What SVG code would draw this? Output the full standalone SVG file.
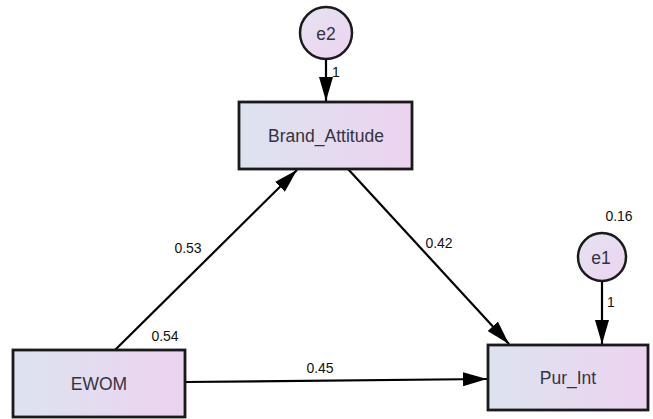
<svg xmlns="http://www.w3.org/2000/svg" width="653" height="419" viewBox="0 0 653 419">
<defs>
<linearGradient id="boxg" x1="0" y1="0" x2="1" y2="0">
<stop offset="0" stop-color="#dde3ef"/>
<stop offset="1" stop-color="#ecd3ef"/>
</linearGradient>
<linearGradient id="circg" x1="0" y1="0" x2="1" y2="1">
<stop offset="0" stop-color="#e6e3f3"/>
<stop offset="1" stop-color="#ecd3ef"/>
</linearGradient>
<marker id="arr" viewBox="0 0 24 14" refX="24" refY="7" markerWidth="24" markerHeight="14" markerUnits="userSpaceOnUse" orient="auto">
<path d="M0,0 L24,7 L0,14 Z" fill="#000"/>
</marker>
<style>
.box{fill:url(#boxg);stroke:#1a1a1a;stroke-width:2.8}
.circ{fill:url(#circg);stroke:#1a1a1a;stroke-width:2.5}
.nt{font-family:"Liberation Sans",Arial,sans-serif;font-size:17.5px;fill:#33333f;text-anchor:middle;dominant-baseline:central}
.lb{font-family:"Liberation Sans",Arial,sans-serif;font-size:14px;fill:#111;text-anchor:middle;dominant-baseline:central}
.ln{stroke:#000;stroke-width:2.2;fill:none;marker-end:url(#arr)}
</style>
</defs>
<g id="connectors">
<line class="ln" x1="326" y1="59" x2="326" y2="101"/>
<line class="ln" x1="602" y1="281" x2="602" y2="344"/>
<line class="ln" x1="115" y1="350" x2="297" y2="170"/>
<line class="ln" x1="348" y1="169" x2="509" y2="344"/>
<line class="ln" x1="185" y1="382" x2="487" y2="379"/>
</g>
<g id="e2">
<circle class="circ" cx="326" cy="33" r="26"/>
<text class="nt" x="326" y="34">e2</text>
</g>
<g id="Brand_Attitude">
<rect class="box" x="239" y="102" width="173" height="67"/>
<text class="nt" x="326" y="136">Brand_Attitude</text>
</g>
<g id="e1">
<circle class="circ" cx="602" cy="257" r="24"/>
<text class="nt" x="601" y="258">e1</text>
</g>
<g id="EWOM">
<rect class="box" x="13" y="350" width="172" height="67"/>
<text class="nt" x="99" y="384">EWOM</text>
</g>
<g id="Pur_Int">
<rect class="box" x="488" y="345" width="160" height="65"/>
<text class="nt" x="568" y="378">Pur_Int</text>
</g>
<g id="labels">
<text class="lb" x="336" y="72">1</text>
<text class="lb" x="188" y="248">0.53</text>
<text class="lb" x="439" y="243">0.42</text>
<text class="lb" x="165" y="336">0.54</text>
<text class="lb" x="320" y="368">0.45</text>
<text class="lb" x="619" y="216">0.16</text>
<text class="lb" x="611" y="302">1</text>
</g>
</svg>
